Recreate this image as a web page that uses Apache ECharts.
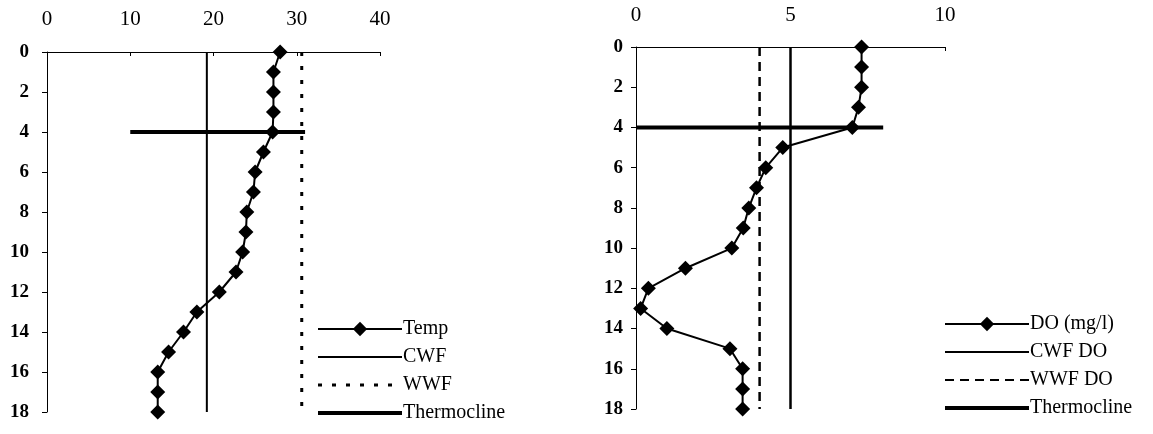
<!DOCTYPE html>
<html>
<head>
<meta charset="utf-8">
<script src="https://cdn.jsdelivr.net/npm/echarts@6/dist/echarts.min.js"></script>
<style>
  html, body { margin: 0; padding: 0; background: #fff; }
  #chart { width: 1153px; height: 434px; }
</style>
</head>
<body>
<div id="chart"></div>
<script>
// depth (m) down the vertical axis
const depths = [0, 1, 2, 3, 4, 5, 6, 7, 8, 9, 10, 11, 12, 13, 14, 15, 16, 17, 18]
const temp = [28.0, 27.2, 27.2, 27.2, 27.1, 26.0, 25.0, 24.8, 24.0, 23.9, 23.5, 22.7, 20.7, 18.0, 16.4, 14.6, 13.3, 13.3, 13.3]
const doVals = [7.3, 7.3, 7.3, 7.2, 7.0, 4.75, 4.2, 3.9, 3.65, 3.47, 3.1, 1.6, 0.4, 0.15, 1.0, 3.04, 3.45, 3.45, 3.45]

// reference lines
const cwfTemp = 19.2
const wwfTemp = 30.6
const thermoTemp = [10, 31]
const cwfDo = 5
const wwfDo = 4
const thermoDo = [0, 8]
const thermoDepth = 4
const depthRange = [0, 18]

const font = '"Liberation Serif", "DejaVu Serif", serif'
const black = '#000'

let myChart = echarts.init(document.getElementById('chart'))

function xAxisOf(grid, max, interval, margin) {
  return {
    gridIndex: grid,
    type: 'value',
    position: 'top',
    min: 0,
    max: max,
    interval: interval,
    splitLine: { show: false },
    axisLine: { show: true, lineStyle: { color: black, width: 1 } },
    axisTick: { show: true, inside: true, length: 4, lineStyle: { color: black } },
    axisLabel: { color: black, fontFamily: font, fontSize: 21, margin: margin },
  }
}

function yAxisOf(grid, margin) {
  return {
    gridIndex: grid,
    type: 'value',
    inverse: true,
    min: 0,
    max: 18,
    interval: 2,
    splitLine: { show: false },
    axisLine: { show: true, onZero: false, lineStyle: { color: black, width: 1 } },
    axisTick: { show: true, length: 5, lineStyle: { color: black } },
    axisLabel: { color: black, fontFamily: font, fontSize: 19, fontWeight: 700, margin: margin },
  }
}

function vline(name, idx, x, type, width) {
  return {
    name: name,
    type: 'line',
    xAxisIndex: idx,
    yAxisIndex: idx,
    symbol: 'none',
    itemStyle: { color: black },
    lineStyle: { color: black, width: width, type: type },
    data: depthRange.map((d) => [x, d]),
    z: 1,
  }
}

// legend entry: line only, no round marker
function lineItem(name, width) {
  return { name: name, itemStyle: { opacity: 0 }, lineStyle: { width: width } }
}

const legendText = { color: black, fontFamily: font, fontSize: 20, padding: [0, 0, 0, -4] }

const option = {
  animation: false,
  backgroundColor: '#fff',
  grid: [
    { left: 47, top: 52, width: 333, height: 360 },
    { left: 636, top: 47, width: 309, height: 362 },
  ],
  xAxis: [xAxisOf(0, 40, 10, 22), xAxisOf(1, 10, 5, 21)],
  yAxis: [yAxisOf(0, 18), yAxisOf(1, 13)],
  legend: [
    {
      orient: 'vertical',
      left: 311,
      top: 314,
      height: 160,
      itemWidth: 84,
      itemHeight: 18,
      itemGap: 8,
      textStyle: legendText,
      data: ['Temp', lineItem('CWF', 2), lineItem('WWF', 3), lineItem('Thermocline', 4)],
    },
    {
      orient: 'vertical',
      left: 938,
      top: 309,
      height: 160,
      itemWidth: 84,
      itemHeight: 18,
      itemGap: 8,
      textStyle: legendText,
      data: ['DO (mg/l)', lineItem('CWF DO', 2), lineItem('WWF DO', 2), lineItem('Thermocline ', 4)],
    },
  ],
  series: [
    {
      name: 'Temp',
      type: 'line',
      xAxisIndex: 0,
      yAxisIndex: 0,
      symbol: 'diamond',
      symbolSize: 15,
      itemStyle: { color: black },
      lineStyle: { color: black, width: 2 },
      data: depths.map((d, i) => [temp[i], d]),
      z: 3,
    },
    vline('CWF', 0, cwfTemp, 'solid', 2),
    vline('WWF', 0, wwfTemp, [4, 10], 3),
    {
      name: 'Thermocline',
      type: 'line',
      xAxisIndex: 0,
      yAxisIndex: 0,
      symbol: 'none',
      itemStyle: { color: black },
      lineStyle: { color: black, width: 4 },
      data: thermoTemp.map((x) => [x, thermoDepth]),
      z: 2,
    },
    {
      name: 'DO (mg/l)',
      type: 'line',
      xAxisIndex: 1,
      yAxisIndex: 1,
      symbol: 'diamond',
      symbolSize: 15,
      itemStyle: { color: black },
      lineStyle: { color: black, width: 2 },
      data: depths.map((d, i) => [doVals[i], d]),
      z: 3,
    },
    vline('CWF DO', 1, cwfDo, 'solid', 2.5),
    vline('WWF DO', 1, wwfDo, [9, 6], 2.5),
    {
      name: 'Thermocline ',
      type: 'line',
      xAxisIndex: 1,
      yAxisIndex: 1,
      symbol: 'none',
      itemStyle: { color: black },
      lineStyle: { color: black, width: 4 },
      data: thermoDo.map((x) => [x, thermoDepth]),
      z: 2,
    },
  ],
}

myChart.setOption(option)
</script>
</body>
</html>
